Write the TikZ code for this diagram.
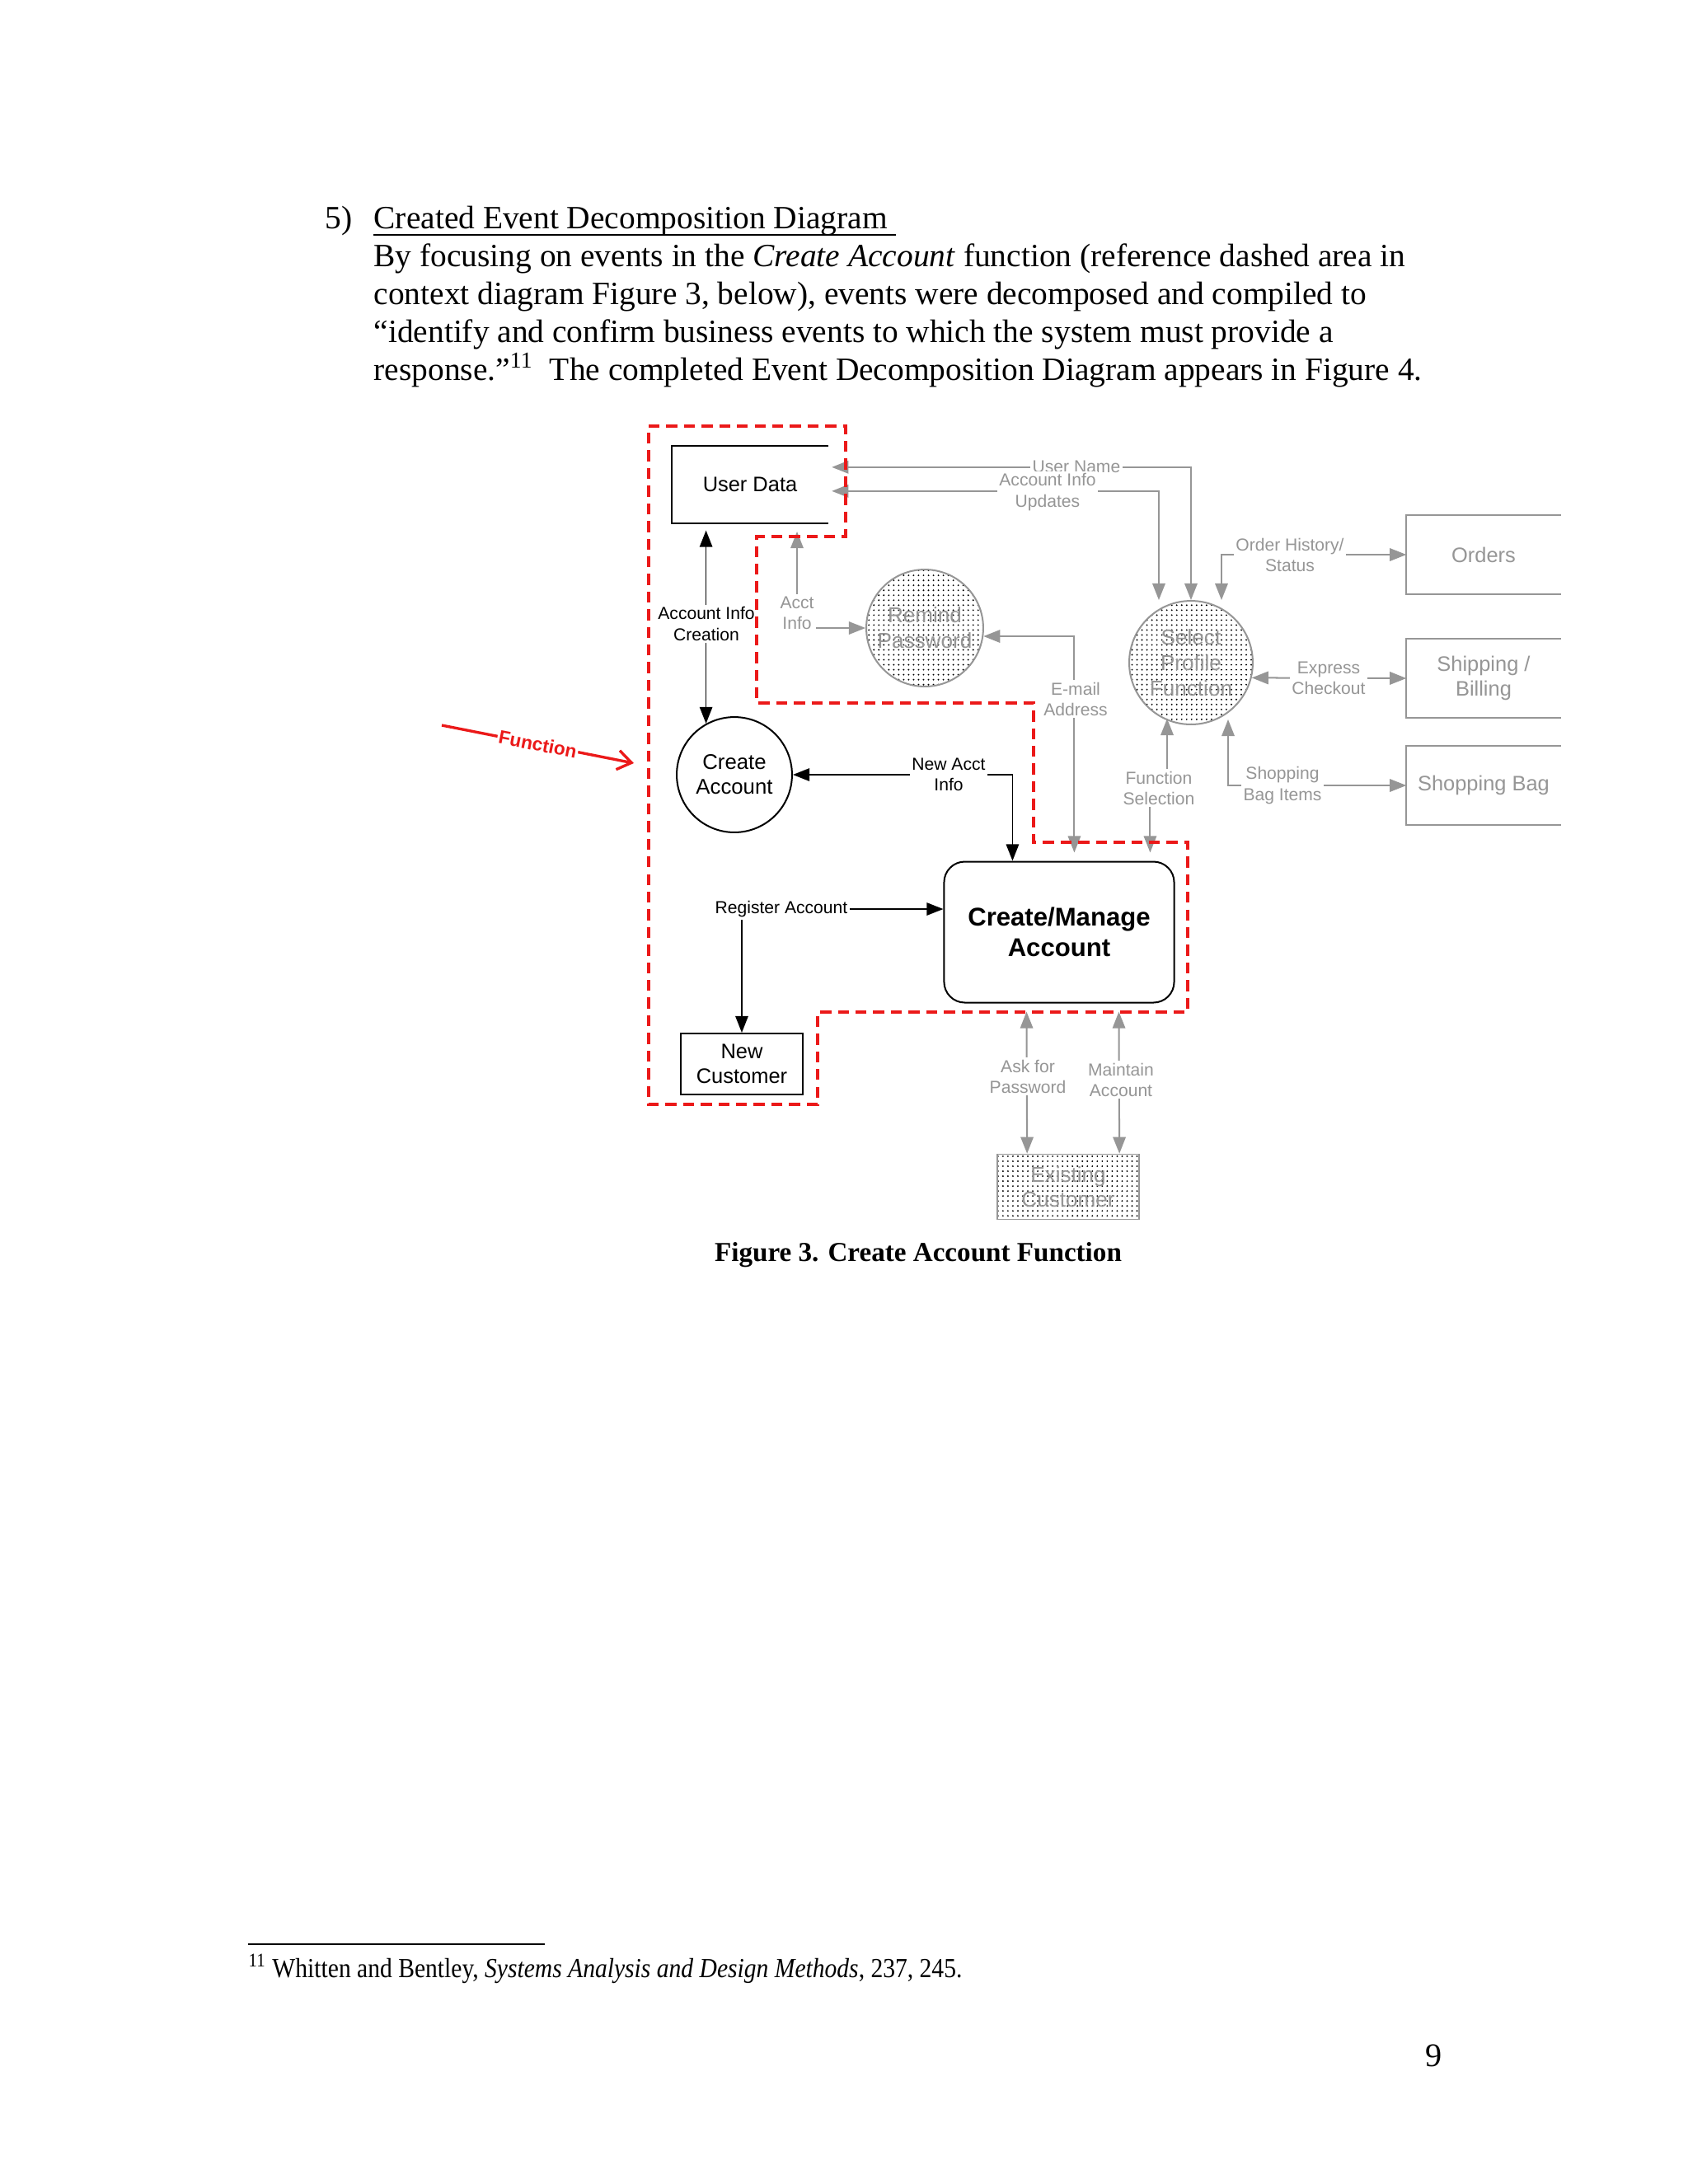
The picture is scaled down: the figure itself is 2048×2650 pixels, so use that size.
\documentclass[tikz,border=0pt]{standalone}
\usepackage{fontspec}
\setmainfont{Liberation Serif}
\newfontfamily\diafont{Liberation Sans}
\usetikzlibrary{arrows.meta,calc,patterns.meta}
\definecolor{dfdgray}{RGB}{150,150,150}
\definecolor{fnred}{RGB}{235,25,25}

\begin{document}
\begin{tikzpicture}[x=0.2988pt, y=-0.2988pt,
  txt/.style={anchor=base west, inner sep=0pt, font=\fontsize{11.78}{13.8}\selectfont},
  store/.style={rectangle, inner sep=0pt, align=center,
    font=\diafont\fontsize{7.6}{9}\selectfont},
  proc/.style={circle, draw=black, line width=0.6pt, minimum size=41.8pt,
    inner sep=0pt, align=center, font=\diafont\fontsize{7.7}{9}\selectfont},
  dotproc/.style={circle, draw=dfdgray, line width=0.6pt,
    pattern={Dots[distance=1.8pt,radius=0.32pt]}, text=dfdgray,
    inner sep=0pt, align=center, font=\diafont\fontsize{7.8}{9.3}\selectfont},
  cmbox/.style={draw=black, line width=0.6pt, rounded corners=7.5pt,
    minimum width=83.4pt, minimum height=51.1pt, align=center,
    font=\diafont\bfseries\fontsize{9.3}{11}\selectfont},
  lbl/.style={fill=white, inner sep=0.8pt, align=center,
    font=\diafont\fontsize{6.3}{7.5}\selectfont},
  glbl/.style={lbl, text=dfdgray},
  bdbl/.style={{Triangle[length=6pt,width=4.6pt]}-{Triangle[length=6pt,width=4.6pt]},
    line width=0.5pt},
  gdbl/.style={{Triangle[length=6pt,width=4.6pt]}-{Triangle[length=6pt,width=4.6pt]},
    draw=dfdgray, line width=0.6pt},
  fnbox/.style={draw=fnred, line width=1.1pt, dash pattern=on 4pt off 2.4pt},
  fnarr/.style={draw=fnred, line width=1pt, -{Straight Barb[length=5pt,width=7pt]}},
]
\fill[white] (0,0) rectangle (2048,2650);
\useasboundingbox (0,0) rectangle (2048,2650);

%--- section text ---
\node[txt] (num)  at (394,277) {5)};
\node[txt] (head) at (453,277) {Created Event Decomposition Diagram\ \mbox{}};
\draw[line width=0.6pt] ($(head.base west)+(0,8)$) -- ($(head.base east)+(0,8)$);
\node[txt] (ln1) at (453,323) {By focusing on events in the \textit{Create Account} function (reference dashed area in};
\node[txt] (ln2) at (453,369) {context diagram Figure 3, below), events were decomposed and compiled to};
\node[txt] (ln3) at (453,415) {“identify and confirm business events to which the system must provide a};
\node[txt] (ln4) at (453,461) {response.”\textsuperscript{11}\ \ The completed Event Decomposition Diagram appears in Figure 4.};

%--- stores and processes ---
\node[store, minimum width=56.5pt, minimum height=27.8pt] (udata) at (910,588) {User Data};
\draw[line width=0.6pt] (udata.north east) -- (udata.north west) -- (udata.south west) -- (udata.south east);

\node[proc] (ca) at (891,940) {Create\\Account};
\node[dotproc, minimum size=42.4pt] (rp)  at (1122,762) {Remind\\Password};
\node[dotproc, minimum size=44.8pt] (spf) at (1445,804) {Select\\Profile\\Function};

\node[store, text=dfdgray, minimum width=55.6pt, minimum height=28.4pt] (orders) at (1800,673) {Orders};
\node[store, text=dfdgray, minimum width=55.6pt, minimum height=28.4pt] (shb)    at (1800,823) {Shipping /\\Billing};
\node[store, text=dfdgray, minimum width=55.6pt, minimum height=28.4pt] (sbag)   at (1800,953) {Shopping Bag};
\foreach \s in {orders,shb,sbag}
  \draw[dfdgray, line width=0.6pt] (\s.north east) -- (\s.north west) -- (\s.south west) -- (\s.south east);

\node[cmbox] (cm) at (1285,1131) {Create/Manage\\Account};
\node[store, draw, line width=0.6pt, minimum width=44.5pt, minimum height=22.1pt] (nc) at (900,1291) {New\\Customer};
\node[store, draw=dfdgray, line width=0.5pt, text=dfdgray, pattern={Dots[distance=1.8pt,radius=0.32pt]},
  minimum width=51.4pt, minimum height=23.6pt, font=\diafont\fontsize{7.8}{9}\selectfont] (ec) at (1296,1440) {Existing\\Customer};

%--- black flows ---
\draw[bdbl, shorten >=2.5pt] (ca.119) -- (ca.119 |- udata.south);
\draw[bdbl] (ca.east) -| ($(cm.north west)+(84,0)$);
\draw[bdbl] (nc.north) |- ($(cm.west)+(0,-28)$);

\node[lbl] (aic) at (857,757)  {Account Info\\Creation};
\node[lbl] (nai) at (1151,940) {New Acct\\Info};
\node[lbl] (reg) at (948,1103) {Register Account};

%--- gray flows ---
\coordinate (aitop) at (967,645);
\draw[gdbl] (aitop) |- (rp.west);
\draw[gdbl, shorten >=3pt] (rp.-8) -| ($(cm.north west)+(159,0)$);
\draw[gdbl] ($(udata.north east)+(4,26)$) -| (spf.north);
\draw[gdbl] ($(udata.north east)+(4,55)$) -| ($(spf.north)+(-39,0)$);
\draw[gdbl] ($(spf.north)+(37,0)$) |- (orders.west);
\draw[gdbl] (spf.-14) -- (shb.west);
\draw[gdbl] ($(spf.south)+(45,-7)$) |- (sbag.west);
\draw[gdbl, shorten >=3pt] ($(spf.south)+(-29,-8)$) -- ++(0,86) -| ($(cm.north west)+(251,0)$);
\draw[gdbl, shorten <=3pt] ($(cm.south west)+(101,0)$) -- ($(ec.north west)+(37,0)$);
\draw[gdbl, shorten <=3pt] ($(cm.south west)+(213,0)$) -- ($(ec.north west)+(149,0)$);

\node[glbl] (acti) at (967,744)  {Acct\\Info};
\node[glbl] (mail) at (1305,848) {E-mail\\Address};
\node[glbl] (unam) at (1306,566) {User Name};
\node[glbl] (aiu)  at (1271,597) {Account Info\\Updates};
\node[glbl] (ohs)  at (1565,673) {Order History/\\Status};
\node[glbl] (exc)  at (1612,823) {Express\\Checkout};
\node[glbl] (sbi)  at (1556,953) {Shopping\\Bag Items};
\node[glbl] (fsel) at (1406,956) {Function\\Selection};
\node[glbl] (afp)  at (1247,1306) {Ask for\\Password};
\node[glbl] (mna)  at (1360,1310) {Maintain\\Account};

%--- dashed function area ---
\draw[fnbox] (787,517) -- (1026,517) -- (1026,651) -- (918,651) -- (918,853) -- (1254,853)
  -- (1254,1022) -- (1441,1022) -- (1441,1228) -- (992,1228) -- (992,1340) -- (787,1340) -- cycle;

\coordinate (fn0) at (536,880);
\coordinate (fn1) at (769,926);
\draw[fnarr] (fn0) -- node[sloped, fill=white, inner sep=0.5pt, text=fnred,
  font=\diafont\bfseries\fontsize{6.8}{8}\selectfont] (fntxt) {Function} (fn1);

%--- caption, footnote, page number ---
\node[anchor=base, inner sep=0pt, font=\bfseries\fontsize{9.9}{12}\selectfont] (cap) at (1114,1530)
  {Figure 3. Create Account Function};
\draw[line width=0.5pt] (301,2359) -- (661,2359);
\node[txt, font=\fontsize{10}{12}\selectfont] (fnote) at (301,2399)
  {\scalebox{0.884}[1]{\textsuperscript{11}\ Whitten and Bentley, \textit{Systems Analysis and Design Methods}, 237, 245.}};
\node[anchor=base, inner sep=0pt, font=\fontsize{12}{14}\selectfont] (pgnum) at (1740,2507) {9};

\end{tikzpicture}
\end{document}
